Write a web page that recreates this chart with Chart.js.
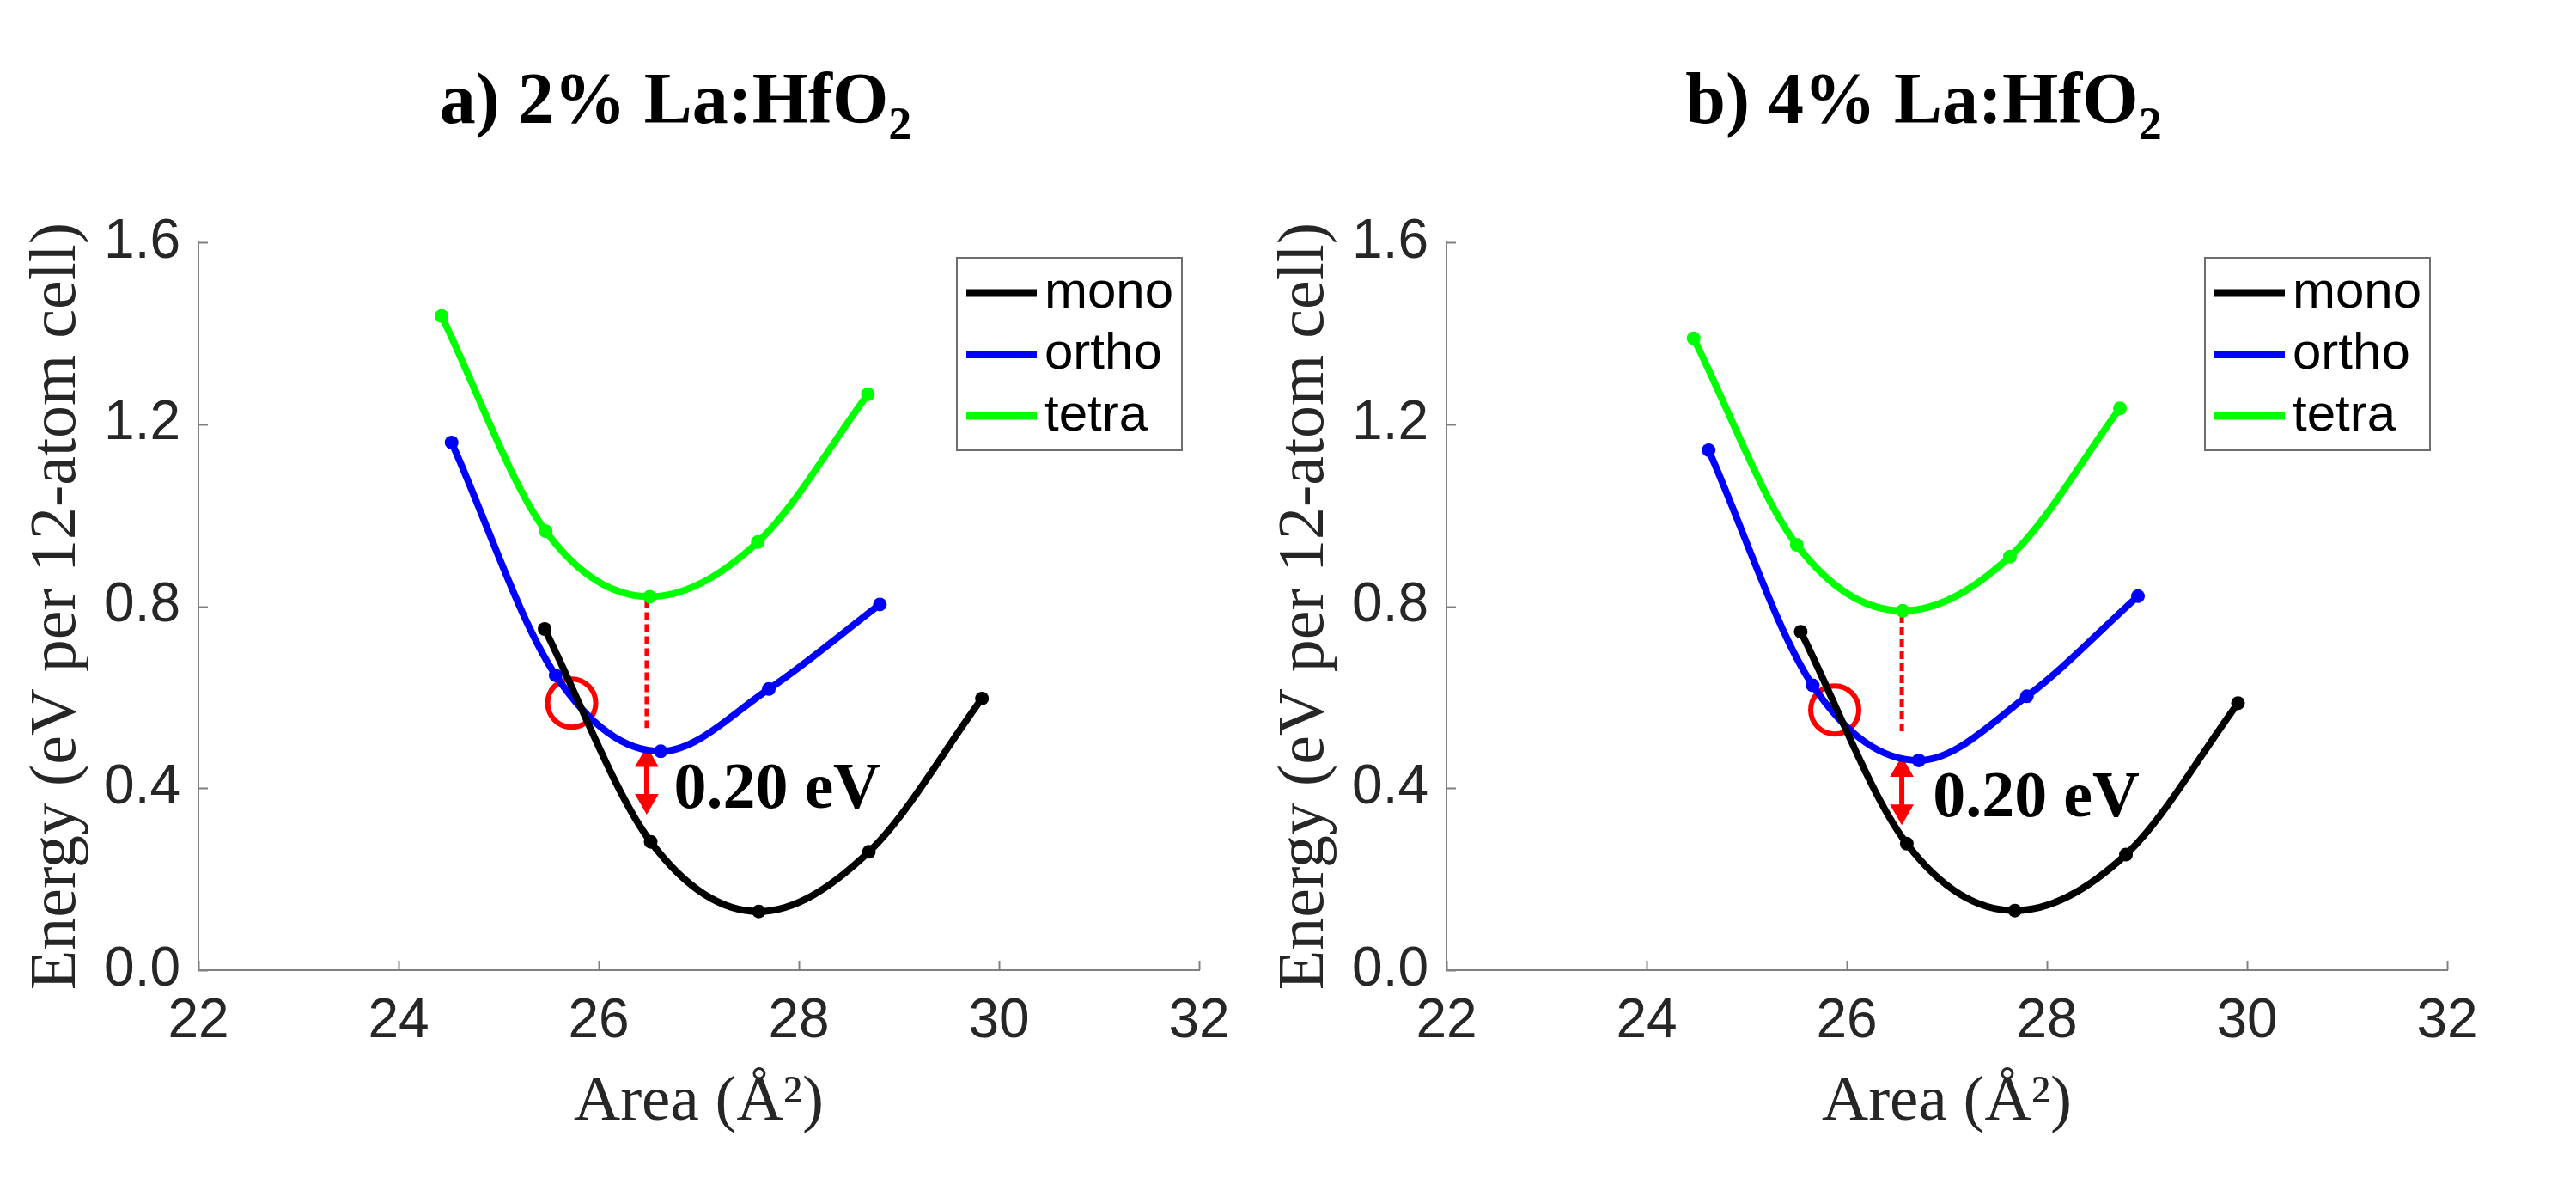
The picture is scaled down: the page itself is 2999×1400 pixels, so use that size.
<!DOCTYPE html>
<html>
<head>
<meta charset="utf-8">
<title>La:HfO2 energy vs area</title>
<script src="https://cdn.jsdelivr.net/npm/chart.js@4.4.1/dist/chart.umd.min.js"></script>
<style>
  html, body { margin: 0; padding: 0; background: #fff; overflow: hidden; }
  #wrap { position: relative; width: 2999px; height: 1400px; }
  canvas { position: absolute; top: 0; }
  #chart2 { left: 0; }
  #chart4 { left: 1453px; }
</style>
</head>
<body>
<div id="wrap">
  <canvas id="chart2" width="1500" height="1400"></canvas>
  <canvas id="chart4" width="1500" height="1400"></canvas>
</div>
<script>
// ---- data ----
const areaTicks = [22, 24, 26, 28, 30, 32];
const energyTicks = [0.0, 0.4, 0.8, 1.2, 1.6];
const phaseNames = ['mono', 'ortho', 'tetra'];
const phaseColors = ['#000000', '#0000ff', '#00ff00'];

// a) 2% La:HfO2
const monoArea2 = [25.46, 26.52, 27.60, 28.70, 29.83];
const monoEnergy2 = [0.750, 0.282, 0.129, 0.260, 0.597];
const orthoArea2 = [24.53, 25.57, 26.62, 27.70, 28.81];
const orthoEnergy2 = [1.160, 0.648, 0.481, 0.618, 0.804];
const tetraArea2 = [24.43, 25.47, 26.51, 27.59, 28.69];
const tetraEnergy2 = [1.438, 0.965, 0.821, 0.941, 1.266];

// b) 4% La:HfO2
const monoArea4 = [25.54, 26.60, 27.68, 28.79, 29.91];
const monoEnergy4 = [0.744, 0.278, 0.131, 0.254, 0.587];
const orthoArea4 = [24.62, 25.66, 26.72, 27.80, 28.91];
const orthoEnergy4 = [1.143, 0.626, 0.461, 0.602, 0.822];
const tetraArea4 = [24.47, 25.50, 26.56, 27.63, 28.73];
const tetraEnergy4 = [1.389, 0.935, 0.790, 0.909, 1.235];

// annotations (area, energy)
const gapArea2 = 26.48, gapDotted2 = [0.813, 0.532], gapArrow2 = [0.462, 0.372];
const gapArea4 = 26.55, gapDotted4 = [0.780, 0.515], gapArrow4 = [0.440, 0.349];
const gapLabel = '0.20 eV';
const gapLabelPos2 = [26.75, 0.394], gapLabelPos4 = [26.86, 0.375];
const crossing2 = [25.73, 0.587], crossing4 = [25.88, 0.572];

const axisColor = '#808080';
const labelColor = '#262626';
const red = '#ff0000';

function toPoints(xs, ys) {
  return xs.map((x, i) => ({ x: x, y: ys[i] }));
}

// legend, inward ticks, panel title and the gap label
const panelDecor = {
  id: 'panelDecor',
  afterDraw(chart, args, opts) {
    const { ctx, chartArea, scales } = chart;
    const xs = scales.x, ys = scales.y;
    ctx.save();

    // inward tick marks
    ctx.strokeStyle = axisColor;
    ctx.lineWidth = 2;
    ctx.beginPath();
    xs.ticks.forEach(t => {
      const px = Math.round(xs.getPixelForValue(t.value)) + 0.5;
      ctx.moveTo(px, chartArea.bottom);
      ctx.lineTo(px, chartArea.bottom - 11);
    });
    ys.ticks.forEach(t => {
      const py = Math.round(ys.getPixelForValue(t.value)) + 0.5;
      ctx.moveTo(chartArea.left, py);
      ctx.lineTo(chartArea.left + 11, py);
    });
    ctx.stroke();

    // legend box
    const boxW = 262, boxH = 224;
    const bx = chartArea.right - 20 - boxW, by = chartArea.top + 18;
    ctx.fillStyle = '#fff';
    ctx.fillRect(bx, by, boxW, boxH);
    ctx.strokeStyle = '#6e6e6e';
    ctx.lineWidth = 2;
    ctx.strokeRect(bx, by, boxW, boxH);
    ctx.font = '60px "Liberation Sans", Arial, sans-serif';
    ctx.textBaseline = 'middle';
    ctx.textAlign = 'left';
    phaseNames.forEach((name, i) => {
      const ly = by + 41 + i * 71.5;
      ctx.strokeStyle = phaseColors[i];
      ctx.lineWidth = 9;
      ctx.beginPath();
      ctx.moveTo(bx + 11, ly);
      ctx.lineTo(bx + 93, ly);
      ctx.stroke();
      ctx.fillStyle = '#000';
      ctx.fillText(name, bx + 102, ly);
    });

    // panel title with subscript
    const mainFont = 'bold 84px "Liberation Serif", "Times New Roman", serif';
    const subFont = 'bold 54px "Liberation Serif", "Times New Roman", serif';
    ctx.font = mainFont;
    const w1 = ctx.measureText(opts.title).width;
    ctx.font = subFont;
    const w2 = ctx.measureText(opts.sub).width;
    const cx = (chartArea.left + chartArea.right) / 2 - 27;
    const tx = cx - (w1 + w2) / 2;
    ctx.fillStyle = '#000';
    ctx.textBaseline = 'alphabetic';
    ctx.font = mainFont;
    ctx.fillText(opts.title, tx, 143);
    ctx.font = subFont;
    ctx.fillText(opts.sub, tx + w1, 162);

    // gap label
    ctx.font = 'bold 76px "Liberation Serif", "Times New Roman", serif';
    ctx.textBaseline = 'middle';
    ctx.fillText(gapLabel, xs.getPixelForValue(opts.labelPos[0]), ys.getPixelForValue(opts.labelPos[1]));

    ctx.restore();
  }
};

function makePanel(canvasId, series, gap, titleText) {
  const datasets = series.map((s, i) => ({
    label: phaseNames[i],
    data: toPoints(s[0], s[1]),
    showLine: true,
    borderColor: phaseColors[i],
    backgroundColor: phaseColors[i],
    borderWidth: 8,
    pointRadius: 8,
    pointBorderWidth: 0,
    cubicInterpolationMode: 'monotone'
  }));

  // dotted red line from the tetra minimum
  datasets.push({
    label: 'gap-dotted',
    data: toPoints([gap.area, gap.area], gap.dotted),
    showLine: true,
    borderColor: red,
    borderWidth: 5,
    borderDash: [9, 5],
    pointRadius: 0
  });
  // double-headed arrow
  datasets.push({
    label: 'gap-arrow',
    data: toPoints([gap.area, gap.area], gap.arrow),
    showLine: true,
    borderColor: red,
    backgroundColor: red,
    borderWidth: 6,
    pointStyle: 'triangle',
    pointRotation: [0, 180],
    pointRadius: 16,
    pointBorderWidth: 0
  });
  // circle at the mono/ortho crossing
  datasets.push({
    label: 'crossing',
    data: [{ x: gap.crossing[0], y: gap.crossing[1] }],
    showLine: false,
    borderColor: red,
    backgroundColor: 'rgba(0,0,0,0)',
    pointRadius: 28,
    pointBorderWidth: 6
  });

  return new Chart(document.getElementById(canvasId), {
    type: 'scatter',
    data: { datasets: datasets },
    plugins: [panelDecor],
    options: {
      responsive: false,
      animation: false,
      events: [],
      layout: { padding: { left: 0, top: 282, right: 104, bottom: 0 } },
      plugins: {
        legend: { display: false },
        tooltip: { enabled: false },
        panelDecor: { title: titleText, sub: '2', labelPos: gap.labelPos }
      },
      scales: {
        x: {
          type: 'linear',
          min: areaTicks[0],
          max: areaTicks[areaTicks.length - 1],
          afterBuildTicks: scale => { scale.ticks = areaTicks.map(v => ({ value: v })); },
          afterFit: scale => { scale.height = 271; },
          grid: { display: false, drawTicks: false },
          border: { display: true, color: axisColor, width: 2 },
          ticks: {
            padding: 22,
            color: labelColor,
            font: { family: '"Liberation Sans", Arial, sans-serif', size: 64 },
            callback: v => String(v)
          },
          title: {
            display: true,
            text: 'Area (Å²)',
            color: labelColor,
            font: { family: '"Liberation Serif", "Times New Roman", serif', size: 75 },
            padding: { top: 0, bottom: 72 }
          }
        },
        y: {
          type: 'linear',
          min: energyTicks[0],
          max: energyTicks[energyTicks.length - 1],
          afterBuildTicks: scale => { scale.ticks = energyTicks.map(v => ({ value: v })); },
          afterFit: scale => { scale.width = 231; },
          grid: { display: false, drawTicks: false },
          border: { display: true, color: axisColor, width: 2 },
          ticks: {
            padding: 21,
            color: labelColor,
            font: { family: '"Liberation Sans", Arial, sans-serif', size: 64 },
            callback: v => Number(v).toFixed(1)
          },
          title: {
            display: true,
            text: 'Energy (eV per 12-atom cell)',
            color: labelColor,
            font: { family: '"Liberation Serif", "Times New Roman", serif', size: 76 },
            padding: { top: 21, bottom: 0 }
          }
        }
      }
    }
  });
}

makePanel('chart2',
  [[monoArea2, monoEnergy2], [orthoArea2, orthoEnergy2], [tetraArea2, tetraEnergy2]],
  { area: gapArea2, dotted: gapDotted2, arrow: gapArrow2, labelPos: gapLabelPos2, crossing: crossing2 },
  'a) 2% La:HfO');

makePanel('chart4',
  [[monoArea4, monoEnergy4], [orthoArea4, orthoEnergy4], [tetraArea4, tetraEnergy4]],
  { area: gapArea4, dotted: gapDotted4, arrow: gapArrow4, labelPos: gapLabelPos4, crossing: crossing4 },
  'b) 4% La:HfO');
</script>
</body>
</html>
